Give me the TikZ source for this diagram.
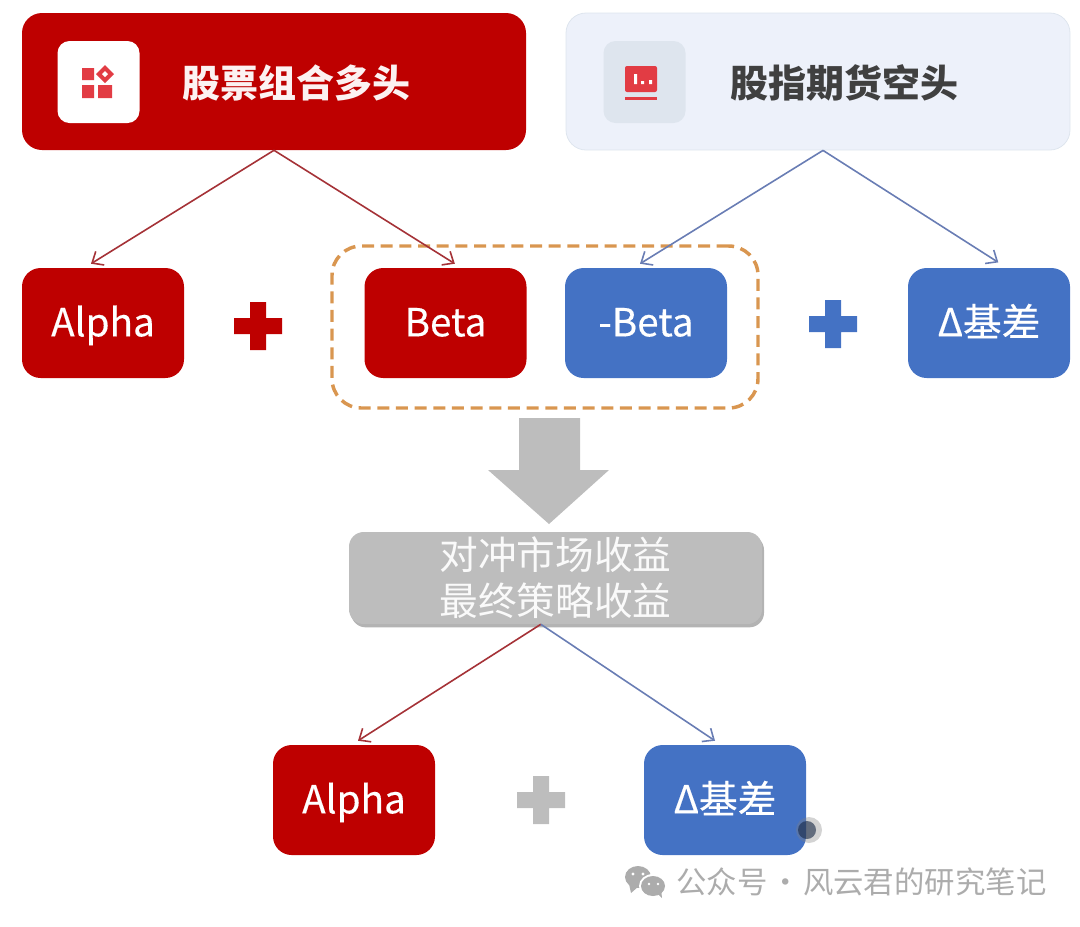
\documentclass[tikz,border=0pt]{standalone}
\usepackage{fontspec}
\setmainfont{Noto Sans CJK SC}
\newfontfamily\medfont[FakeBold=0.35]{Noto Sans CJK SC}
\usetikzlibrary{arrows.meta,shadows,positioning,calc}
\definecolor{darkred}{RGB}{190,0,0}
\definecolor{darkblue}{RGB}{68,114,196}
\definecolor{lightblue}{RGB}{237,241,250}
\definecolor{iconblue}{RGB}{222,229,238}
\definecolor{iconred}{RGB}{226,60,68}
\definecolor{midgray}{RGB}{189,189,189}
\definecolor{framecolor}{RGB}{217,150,80}
\definecolor{linered}{RGB}{165,50,55}
\definecolor{lineblue}{RGB}{105,125,180}
\definecolor{markgray}{RGB}{172,172,172}
\tikzset{
  headbox/.style={rectangle,rounded corners=15pt,minimum width=378pt,minimum height=102.75pt,inner sep=0pt},
  iconbox/.style={rectangle,rounded corners=9pt,minimum width=61.5pt,minimum height=61.5pt,inner sep=0pt},
  termbox/.style={rectangle,rounded corners=14pt,minimum width=121.5pt,minimum height=82.5pt,inner sep=0pt,text=white,text height=25pt,text depth=5pt,font=\medfont\fontsize{29}{34}\selectfont},
  headtext/.style={font=\fontsize{28.5}{34}\selectfont\bfseries},
  redline/.style={->,linered,line width=1.2pt},
  blueline/.style={->,lineblue,line width=1.2pt},
  >={Straight Barb[length=7pt,width=12pt]}
}
\begin{document}
\begin{tikzpicture}[x=0.75pt,y=-0.75pt]
  \useasboundingbox (0,0) rectangle (1080,926);

  \node[headbox,fill=darkred] (long) at (274,81.5) {};
  \node[headbox,fill=lightblue,draw=iconblue,line width=.6pt] (short) at (818,81.5) {};
  \node[iconbox,fill=white] (longicon) at (98.5,82) {};
  \node[iconbox,fill=iconblue] (shorticon) at (644.5,82) {};
  \node[headtext,text=white!95!darkred] (longtext) at (296,83) {股票组合多头};
  \node[headtext,text=black!75] (shorttext) at (844,83) {股指期货空头};

  % icons
  \fill[iconred] (82,68) rectangle (94,80) (82,85) rectangle (94,98) (98,85) rectangle (112,98);
  \fill[iconred] (105,65) -- (114,74) -- (105,83) -- (96,74) -- cycle;
  \fill[white] (105,71) -- (108,74) -- (105,77) -- (102,74) -- cycle;
  \fill[iconred,rounded corners=1.5pt] (625,66) rectangle (657,92);
  \fill[iconred] (625,96.5) rectangle (657,100);
  \fill[white] (634,74) rectangle (637,84) (641,81) rectangle (644,84) (649,80) rectangle (652,84);

  \node[draw=framecolor,line width=2.6pt,dash pattern=on 9pt off 5pt,rounded corners=22pt,minimum width=319.5pt,minimum height=121.5pt,inner sep=0pt] (frame) at (545,327) {};

  \node[termbox,fill=darkred] (alpha) at (103,323) {Alpha};
  \node[termbox,fill=darkred] (beta) at (445.5,323) {Beta};
  \node[termbox,fill=darkblue] (minusbeta) at (646,323) {-Beta};
  \node[termbox,fill=darkblue] (basis) at (989,323) {Δ基差};

  % plus signs
  \foreach \px/\py/\pc in {258/326/darkred,833/324/darkblue,541/800/midgray}{
    \fill[\pc] ($(\px,\py)+(-8,-24)$) -- ++(16,0) -- ++(0,16) -- ++(16,0) -- ++(0,16) -- ++(-16,0)
      -- ++(0,16) -- ++(-16,0) -- ++(0,-16) -- ++(-16,0) -- ++(0,-16) -- ++(16,0) -- cycle;
  }

  % block arrow
  \fill[midgray] (519,418) -- (580,418) -- (580,470) -- (609,470) -- (549,524) -- (488,470) -- (519,470) -- cycle;

  \node[rectangle,rounded corners=11pt,fill=midgray,minimum width=309.75pt,minimum height=69pt,inner sep=0pt,
    drop shadow={opacity=.6,shadow xshift=1.5pt,shadow yshift=-2.5pt},text=white!92!midgray,align=center,
    font=\fontsize{29}{34.5}\selectfont] (hedge) at (555.5,578) {对冲市场收益\\最终策略收益};

  \node[termbox,fill=darkred] (alphab) at (354,800) {Alpha};
  \node[termbox,fill=darkblue] (basisb) at (725,800) {Δ基差};

  \draw[redline] (long.south) -- ([xshift=-9pt,yshift=3pt]alpha.north);
  \draw[redline] (long.south) -- ([xshift=7pt,yshift=3pt]beta.north);
  \draw[blueline] ([xshift=3.75pt]short.south) -- ([xshift=-4.5pt,yshift=3pt]minusbeta.north);
  \draw[blueline] ([xshift=3.75pt]short.south) -- ([xshift=7pt,yshift=4pt]basis.north);
  \draw[redline] ([xshift=-11pt]hedge.south) -- ([xshift=3pt,yshift=3pt]alphab.north);
  \draw[blueline] ([xshift=-11pt]hedge.south) -- ([xshift=-7.5pt,yshift=3pt]basisb.north);

  % smudge on the lower box
  \fill[black!50,opacity=.35] (809,830) circle (13);
  \fill[black!65!darkblue,opacity=.6] (807,830) circle (9);

  % watermark
  \fill[markgray] (638,877) ellipse (13 and 11);
  \fill[markgray] (629,884) -- (631,893) -- (639,886) -- cycle;
  \fill[white] (653,886) ellipse (14 and 12);
  \fill[markgray] (653,886) ellipse (12 and 10);
  \fill[markgray] (657,893) -- (662,898) -- (661,889) -- cycle;
  \fill[white] (633,874) circle (1.7) (643,874) circle (1.7) (649,884) circle (1.4) (658,884) circle (1.4);
  \node[text=markgray,font=\fontsize{22.8}{26}\selectfont,anchor=west,inner sep=0pt] (mark) at (676,882) {公众号\hspace{2pt}·\hspace{2pt}风云君的研究笔记};
\end{tikzpicture}
\end{document}
